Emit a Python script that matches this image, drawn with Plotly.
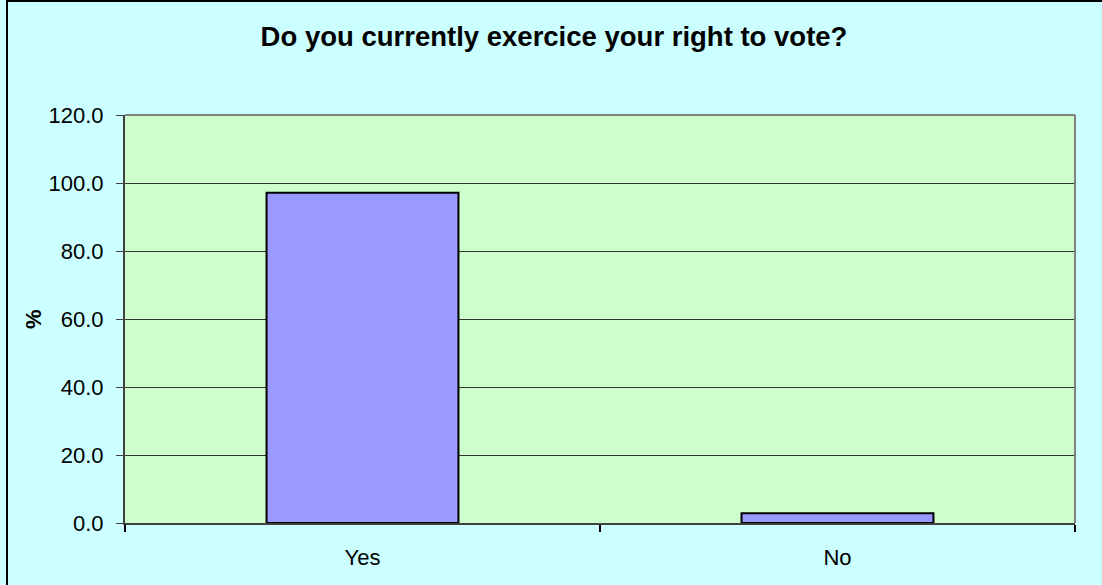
import plotly.graph_objects as go

categories = ["Yes", "No"]
values = [97.1, 2.9]

FONT = "Arial, 'Liberation Sans', sans-serif"

W, H = 1102, 585
ML, MR, MT, MB = 125, 27, 115, 62
PW, PH = W - ML - MR, H - MT - MB

fig = go.Figure()
fig.add_trace(go.Bar(
    x=categories, y=values,
    marker=dict(color="#9999FF", line=dict(color="#000000", width=2)),
    hoverinfo="x+y",
))

fig.update_layout(
    width=W, height=H,
    margin=dict(l=ML, r=MR, t=MT, b=MB, pad=0),
    paper_bgcolor="#CCFFFF",
    plot_bgcolor="#CCFFCC",
    bargap=0.596,
    showlegend=False,
    font=dict(family=FONT, color="#000000"),
    title=dict(
        text="<b>Do you currently exercice your right to vote?</b>",
        font=dict(family=FONT, size=27.5, color="#000000"),
        x=554 / W, xanchor="center", xref="container",
        y=1 - 36 / H, yanchor="middle", yref="container",
    ),
    xaxis=dict(
        type="category",
        showgrid=False,
        showline=True, linecolor="#404040", linewidth=2,
        ticks="outside", ticklen=7, tickcolor="#000000", tickwidth=2,
        tickson="boundaries",
        ticklabelstandoff=14,
        tickfont=dict(family=FONT, size=22, color="#000000"),
    ),
    yaxis=dict(
        range=[0, 120], dtick=20, tick0=0, tickformat=".1f",
        showgrid=True, gridcolor="#333333", gridwidth=1,
        showline=True, linecolor="#404040", linewidth=2,
        ticks="outside", ticklen=7, tickcolor="#404040", tickwidth=1,
        ticklabelstandoff=8,
        tickfont=dict(family=FONT, size=22, color="#000000"),
        zeroline=False,
    ),
    shapes=[
        dict(type="line", xref="paper", yref="paper", x0=0, x1=1, y0=1, y1=1,
             line=dict(color="#808080", width=2), layer="above"),
        dict(type="line", xref="paper", yref="paper", x0=1, x1=1, y0=0, y1=1,
             line=dict(color="#808080", width=2), layer="above"),
        dict(type="rect", xref="paper", yref="paper",
             x0=(7 - ML) / PW, x1=(W + 10 - ML) / PW,
             y0=(H - MB - (H + 10)) / PH, y1=(H - MB - 1) / PH,
             line=dict(color="#000000", width=2), layer="above"),
    ],
    annotations=[
        dict(text="<b>%</b>", xref="paper", yref="paper",
             x=(33 - ML) / PW, y=0.5, xanchor="center", yanchor="middle",
             textangle=-90, showarrow=False,
             font=dict(family=FONT, size=22, color="#000000")),
    ],
)

fig.write_html("out.html",
               config={"displayModeBar": False},
               post_script="document.body.style.margin='0';document.body.style.overflow='hidden';")
